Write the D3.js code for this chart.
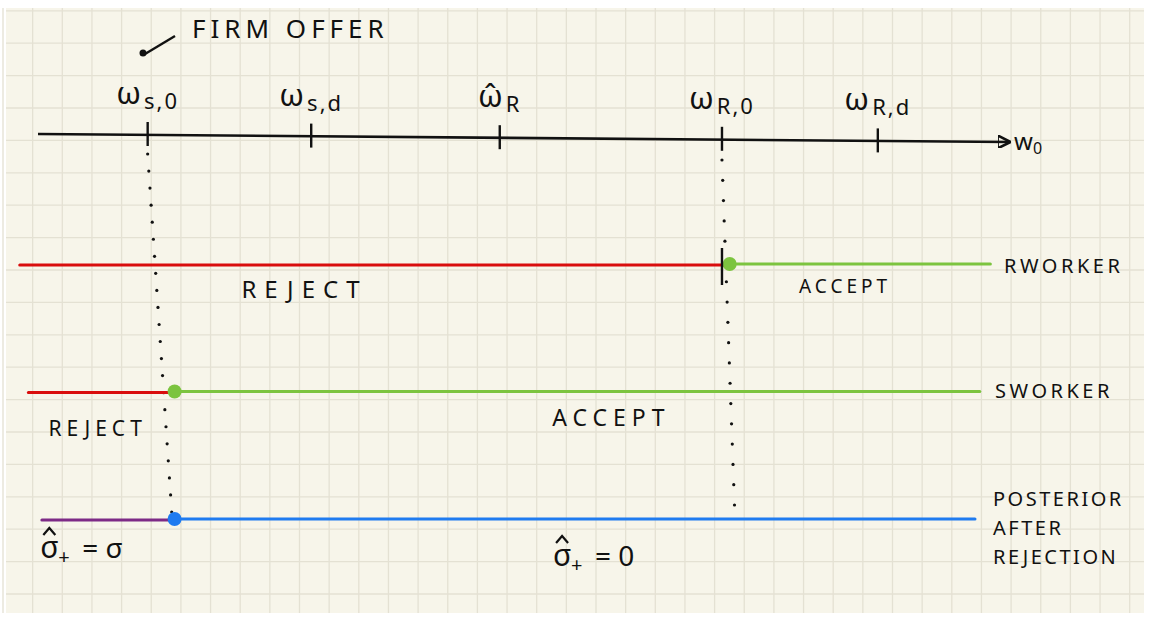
<!DOCTYPE html>
<html>
<head>
<meta charset="utf-8">
<script src="https://cdn.jsdelivr.net/npm/d3@7"></script>
<style>
  body { margin: 0; background: #fff; }
  text { font-family: "Noto Sans", "DejaVu Sans", sans-serif; fill: #111; }
</style>
</head>
<body>
<div id="chart"></div>
<script>
// wage axis (arbitrary units 0..100)
const tickWages = [11.4, 28.4, 48.0, 71.1, 87.3];
const tickBase = ["ω", "ω", "ω̂", "ω", "ω"];
const tickSub = ["s,0", "s,d", "R", "R,0", "R,d"];

// rows: worker types and posterior
const rowNames = ["R WORKER", "S WORKER", "POSTERIOR"];
const rowStart = [-1.9, -1.0, 0.4];
const rowSplit = [71.9, 14.2, 14.2];
const rowEnd = [99.0, 97.9, 97.4];
const leftColor = ["#d90d0d", "#d90d0d", "#7d2a86"];
const rightColor = ["#7cc43f", "#7cc43f", "#1f7bf0"];

const W = 1150, H = 617;

const svg = d3.select("#chart").append("svg")
    .attr("width", W)
    .attr("height", H);

// paper
svg.append("rect")
    .attr("x", 6).attr("y", 8)
    .attr("width", 1138).attr("height", 605)
    .attr("fill", "#f7f5ea");

// grid
const grid = svg.append("g").attr("stroke", "#e4e1d3").attr("stroke-width", 1.3);
d3.range(3, 1144, 29.65).forEach(x => {
    grid.append("line").attr("x1", x).attr("x2", x).attr("y1", 8).attr("y2", 613);
});
d3.range(10.8, 613, 32.4).forEach(y => {
    grid.append("line").attr("x1", 6).attr("x2", 1144).attr("y1", y).attr("y2", y);
});

const x = d3.scaleLinear().domain([0, 100]).range([38, 1000]);
const y = d3.scalePoint().domain(rowNames).range([265, 520]);
const axisY = 134;

// main axis with arrow
svg.append("defs").append("marker")
    .attr("id", "arrow")
    .attr("viewBox", "0 -5 10 10")
    .attr("refX", 8).attr("refY", 0)
    .attr("markerWidth", 5).attr("markerHeight", 5)
    .attr("orient", "auto")
    .append("path")
    .attr("d", "M0,-5L10,0L0,5Z")
    .attr("fill", "none").attr("stroke", "#111").attr("stroke-width", 2);

svg.append("path")
    .attr("d", `M${x(0)},${axisY} L${x(100) + 8},${axisY + 8}`)
    .attr("stroke", "#111").attr("stroke-width", 2.6).attr("fill", "none")
    .attr("marker-end", "url(#arrow)");

svg.append("text")
    .attr("x", x(100) + 14).attr("y", axisY + 16)
    .attr("font-size", 24)
    .text("w")
    .append("tspan").attr("font-size", 16).attr("dy", 4).text("0");

// ticks + labels
const ticks = svg.append("g").selectAll("g")
    .data(tickWages)
    .join("g")
    .attr("transform", (d, i) => `translate(${x(d)},${axisY + i * 1.6})`);

ticks.append("line")
    .attr("y1", -12).attr("y2", 12)
    .attr("stroke", "#111").attr("stroke-width", 2.4);

const tl = ticks.append("text")
    .attr("y", -30)
    .attr("text-anchor", "middle")
    .attr("font-size", 31);
tl.append("tspan").text((d, i) => tickBase[i]);
tl.append("tspan").attr("font-size", 22).attr("dy", 5).attr("dx", 3)
    .attr("letter-spacing", 2)
    .text((d, i) => tickSub[i]);

// firm offer annotation
svg.append("text")
    .attr("x", 192).attr("y", 38)
    .attr("font-size", 26).attr("letter-spacing", 5)
    .text("FIRM OFFER");
svg.append("line")
    .attr("x1", 175).attr("y1", 36).attr("x2", 145).attr("y2", 54)
    .attr("stroke", "#111").attr("stroke-width", 2.4);
svg.append("circle").attr("cx", 143).attr("cy", 53).attr("r", 3.5).attr("fill", "#111");

// dotted guides from thresholds down to rows
function dotted(w0, y0, w1, y1, step) {
    const n = Math.round((y1 - y0) / step);
    svg.append("g").selectAll("circle")
        .data(d3.range(n + 1))
        .join("circle")
        .attr("cx", k => x(w0) + (x(w1) - x(w0)) * k / n)
        .attr("cy", k => y0 + (y1 - y0) * k / n)
        .attr("r", 1.6)
        .attr("fill", "#111");
}
dotted(tickWages[0], axisY + 20, rowSplit[2] - 0.3, y("POSTERIOR") - 8, 17);
dotted(tickWages[3], axisY + 26, tickWages[3] + 1.3, 505, 20);

// rows
rowNames.forEach((r, i) => {
    const yy = y(r);
    svg.append("line")
        .attr("x1", x(rowStart[i])).attr("x2", x(rowSplit[i]))
        .attr("y1", yy).attr("y2", yy)
        .attr("stroke", leftColor[i]).attr("stroke-width", 3).attr("stroke-linecap", "round");
    svg.append("line")
        .attr("x1", x(rowSplit[i])).attr("x2", x(rowEnd[i]))
        .attr("y1", yy - 1).attr("y2", yy - 1)
        .attr("stroke", rightColor[i]).attr("stroke-width", 3).attr("stroke-linecap", "round");
    svg.append("circle")
        .attr("cx", x(rowSplit[i])).attr("cy", yy - 1)
        .attr("r", 7).attr("fill", rightColor[i]);
});

// black marker at R worker threshold
svg.append("line")
    .attr("x1", x(tickWages[3])).attr("x2", x(tickWages[3]))
    .attr("y1", y("R WORKER") - 17).attr("y2", y("R WORKER") + 20)
    .attr("stroke", "#111").attr("stroke-width", 2.4);

// row labels on the right
svg.append("text").attr("x", 1004).attr("y", 273).attr("font-size", 20).attr("letter-spacing", 3.5).text("RWORKER");
svg.append("text").attr("x", 995).attr("y", 398).attr("font-size", 20).attr("letter-spacing", 3.5).text("SWORKER");
["POSTERIOR", "AFTER", "REJECTION"].forEach((t, i) => {
    svg.append("text").attr("x", 993).attr("y", 506 + i * 29)
        .attr("font-size", 20).attr("letter-spacing", 2.5).text(t);
});

// region labels
const regionLabels = [
    { t: "REJECT", w: 27.7, row: 0, dy: 33, fs: 24, ls: 8 },
    { t: "ACCEPT", w: 83.9, row: 0, dy: 28, fs: 19, ls: 4 },
    { t: "REJECT", w: 6.2, row: 1, dy: 43, fs: 21, ls: 5 },
    { t: "ACCEPT", w: 59.6, row: 1, dy: 33, fs: 23, ls: 6 }
];
svg.append("g").selectAll("text")
    .data(regionLabels)
    .join("text")
    .attr("x", d => x(d.w))
    .attr("y", d => y(rowNames[d.row]) + d.dy)
    .attr("text-anchor", "middle")
    .attr("font-size", d => d.fs).attr("letter-spacing", d => d.ls)
    .text(d => d.t);

// posterior values: σ̂+ = ...
const post = [{ w: 4.4, v: "σ" }, { w: 57.7, v: "0" }];
const pg = svg.append("g").selectAll("g")
    .data(post)
    .join("g")
    .attr("transform", (d, i) => `translate(${x(d.w)},${y("POSTERIOR") + 38 + i * 8})`);
pg.append("text").attr("x", -40).attr("font-size", 30).text("σ");
pg.append("path")
    .attr("d", "M-37,-23 L-31,-30 L-25,-23")
    .attr("fill", "none").attr("stroke", "#111").attr("stroke-width", 2.2);
pg.append("text").attr("x", -22).attr("y", 6).attr("font-size", 20).text("+");
pg.append("text").attr("x", 2).attr("font-size", 28).text(d => "= " + d.v);
</script>
</body>
</html>
